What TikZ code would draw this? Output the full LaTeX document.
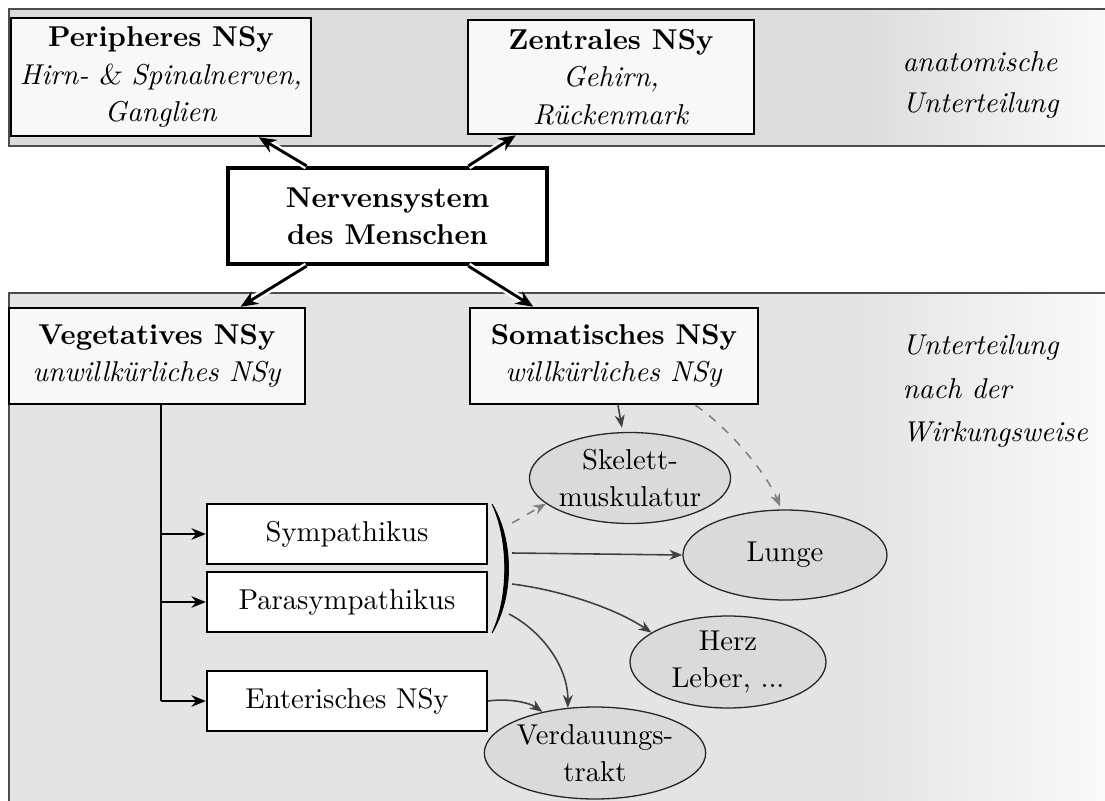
\documentclass[tikz,border=0pt]{standalone}
\usetikzlibrary{arrows.meta,shapes.geometric,calc}
\definecolor{topband}{HTML}{DCDCDC}
\definecolor{lowband}{HTML}{E4E4E4}
\definecolor{bandend}{HTML}{FCFCFC}
\definecolor{boxfill}{HTML}{F8F8F8}
\definecolor{organfill}{HTML}{DADADA}
% bands stay flat grey and fade out towards the right end
\pgfdeclarehorizontalshading{topbandshade}{100bp}{color(0bp)=(topband); color(25bp)=(topband); color(63bp)=(topband); color(75bp)=(bandend); color(100bp)=(bandend)}
\pgfdeclarehorizontalshading{lowbandshade}{100bp}{color(0bp)=(lowband); color(25bp)=(lowband); color(63bp)=(lowband); color(75bp)=(bandend); color(100bp)=(bandend)}
\begin{document}
\begin{tikzpicture}[x=0.3484pt,y=-0.3484pt,
  wh/.style 2 args={minimum width=#1*0.3484pt, minimum height=#2*0.3484pt},
  band/.style={draw=black!70, line width=0.6pt},
  catbox/.style={draw=black, line width=0.9pt, fill=boxfill, align=center, inner sep=1pt},
  rootbox/.style={draw=black, line width=1.4pt, fill=white, align=center, inner sep=1pt},
  subbox/.style={draw=black, line width=0.8pt, fill=white, wh={280}{60}, inner sep=1pt},
  organ/.style={ellipse, draw=black!85, line width=0.45pt, fill=organfill, align=center, inner sep=0pt},
  note/.style={align=left, font=\itshape, anchor=west, inner sep=0pt},
  mainarrow/.style={-{Stealth[length=6pt,width=5pt]}, line width=1pt,
    preaction={draw=white, line width=2.6pt, -, shorten >=3pt}},
  branch/.style={-{Stealth[length=5pt,width=4pt]}, line width=0.7pt},
  link/.style={-{Stealth[length=4.5pt,width=3.5pt]}, line width=0.55pt, draw=black!75},
  weaklink/.style={link, draw=black!50, dashed},
]
\useasboundingbox (0,0) rectangle (1105,801);

% background bands
\shade[band, shading=topbandshade] (9,9) rectangle (1130,146);
\shade[band, shading=lowbandshade] (9,293) rectangle (1130,830);

\node[note] (anat) at (902,85) {anatomische\\[2pt]Unterteilung};
\node[note] (wirk) at (902,391) {Unterteilung\\[3pt]nach der\\[3pt]Wirkungsweise};

% anatomical division
\node[catbox, wh={300}{118}] (peri) at (161,77)
  {\textbf{Peripheres NSy}\\[1pt]\textit{Hirn- {\slshape\&} Spinalnerven,}\\[1pt]\textit{Ganglien}};
\node[catbox, wh={286}{114}] (zent) at (611,77)
  {\textbf{Zentrales NSy}\\[1pt]\textit{Gehirn,}\\[1pt]\textit{Rückenmark}};

\node[rootbox, wh={319}{96}] (nerv) at (387.5,216)
  {\textbf{Nervensystem}\\[1pt]\textbf{des Menschen}};

% functional division
\node[catbox, wh={296}{96}] (veg) at (157,356)
  {\textbf{Vegetatives NSy}\\[1pt]\textit{unwillkürliches NSy}};
\node[catbox, wh={288}{96}] (som) at (614,356)
  {\textbf{Somatisches NSy}\\[1pt]\textit{willkürliches NSy}};

\node[subbox] (symp) at (347,534) {Sympathikus};
\node[subbox] (para) at (347,602) {Parasympathikus};
\node[subbox] (ent)  at (347,701) {Enterisches NSy};

\node[organ, wh={196}{91}] (skel) at (630,478) {Skelett-\\[1pt]muskulatur};
\node[organ, wh={204}{90}] (lunge) at (785,555) {Lunge};
\node[organ, wh={196}{92}] (herz) at (728,662) {Herz\\[1pt]Leber, ...};
\node[organ, wh={196}{92}] (verd) at (595,753) {Verdauungs-\\[1pt]trakt};

% closing bracket around Sympathikus and Parasympathikus
\filldraw[line width=0.3pt] (492,504) .. controls (514,540) and (514,597) .. (492,633)
  .. controls (509,597) and (509,540) .. (492,504) -- cycle;
\coordinate (b1) at (512,523);
\coordinate (b2) at (512,553);
\coordinate (b3) at (512,584);
\coordinate (b4) at (509,614);

% main arrows
\draw[mainarrow] ($(nerv.north west)!0.25!(nerv.north east)$) -- ($(peri.south west)!0.823!(peri.south east)$);
\draw[mainarrow] ($(nerv.north west)!0.75!(nerv.north east)$) -- ($(zent.south west)!0.17!(zent.south east)$);
\draw[mainarrow] ($(nerv.south west)!0.25!(nerv.south east)$) -- ($(veg.north west)!0.78!(veg.north east)$);
\draw[mainarrow] ($(nerv.south west)!0.75!(nerv.south east)$) -- ($(som.north west)!0.222!(som.north east)$);

% vegetative branches
\coordinate (tr) at ([xshift=1.4pt]veg.south);
\draw[line width=0.7pt] (tr) -- (tr |- ent.west);
\draw[branch] (tr |- symp.west) -- (symp.west);
\draw[branch] (tr |- para.west) -- (para.west);
\draw[branch] (tr |- ent.west) -- (ent.west);

% effects on organs
\draw[link, shorten >=1.5pt] ([xshift=1.4pt]som.south) -- (skel.99);
\draw[weaklink] ($(som.south)!0.56!(som.south east)$) .. controls (725,425) and (765,470) .. ([yshift=1pt]lunge.96);
\draw[weaklink] (b1) -- (skel.197);
\draw[link] (b2) -- (lunge.west);
\draw[link] (b3) .. controls (560,590) and (615,608) .. (herz.159);
\draw[link] (b4) .. controls (540,630) and (568,665) .. (verd.121);
\draw[link] (ent.east) .. controls (510,698) and (530,703) .. (verd.142);
\end{tikzpicture}
\end{document}
